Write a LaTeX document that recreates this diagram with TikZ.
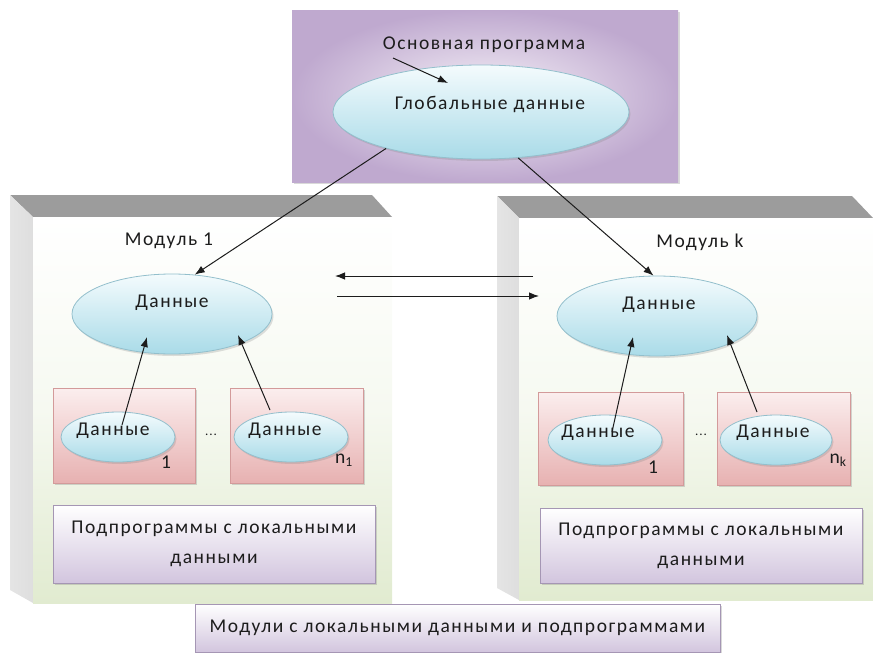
\documentclass[tikz,border=0pt]{standalone}
\usepackage{fontspec}
\setmainfont{Carlito}[LetterSpace=8]
\usetikzlibrary{arrows.meta,shadows,shapes.geometric,calc}

\definecolor{ink}{HTML}{1C1C1C}
\definecolor{purpin}{HTML}{F6F2F8}
\definecolor{purpout}{HTML}{BFA9CF}
\definecolor{ovtop}{HTML}{F4FBFD}
\definecolor{ovbot}{HTML}{A9DBE8}
\definecolor{ovline}{HTML}{93BFCC}
\definecolor{pinktop}{HTML}{FBEEEE}
\definecolor{pinkbot}{HTML}{E7B1B1}
\definecolor{pinkline}{HTML}{D39A9A}
\definecolor{lavtop}{HTML}{FFFFFF}
\definecolor{lavbot}{HTML}{D2C5DE}
\definecolor{lavline}{HTML}{A596B4}
\definecolor{facebot}{HTML}{E1EBD0}
\definecolor{bevtop}{HTML}{9C9C9C}
\definecolor{bevside}{HTML}{DEDEDE}

\tikzset{
  lbl/.style={font=\fontsize{19.5}{22}\selectfont, text=ink, inner sep=0pt},
  oval/.style={ellipse, draw=ovline, line width=0.8pt, top color=ovtop, bottom color=ovbot,
               inner sep=0pt, drop shadow={opacity=0.25, shadow xshift=1.5pt, shadow yshift=-2pt}},
  pinkbox/.style={rectangle, draw=pinkline, line width=0.6pt, top color=pinktop, bottom color=pinkbot,
               inner sep=0pt, drop shadow={opacity=0.3, shadow xshift=2pt, shadow yshift=-2pt}},
  lavbox/.style={rectangle, draw=lavline, line width=0.6pt, top color=lavtop, bottom color=lavbot,
               inner sep=0pt, align=center, font=\fontsize{19.5}{30}\selectfont, text=ink,
               drop shadow={opacity=0.3, shadow xshift=2pt, shadow yshift=-2pt}},
  arr/.style={draw=ink, line width=1pt, -{Latex[length=10pt,width=7.5pt]}},
}

\begin{document}
\begin{tikzpicture}[x=1pt,y=-1pt]
\useasboundingbox (0,0) rectangle (873,653);

% main program panel
\node[rectangle, minimum width=386pt, minimum height=172pt, inner sep=0pt,
      inner color=purpin, outer color=purpout,
      drop shadow={opacity=0.3, shadow xshift=2pt, shadow yshift=-2pt}] (main) at (485,96) {};

% module 1 block
\fill[bevtop] (10,195) -- (372,195) -- (392,217) -- (33,217) -- cycle;
\shade[left color=bevside!80, right color=bevside] (10,195) -- (33,217) -- (33,603) -- (10,590) -- cycle;
\shade[top color=white, bottom color=facebot, middle color=white!70!facebot] (33,217) rectangle (392,603);

% module k block
\fill[bevtop] (497,196) -- (852,196) -- (873,218) -- (519,218) -- cycle;
\shade[left color=bevside!80, right color=bevside] (497,196) -- (519,218) -- (519,600) -- (497,588) -- cycle;
\shade[top color=white, bottom color=facebot, middle color=white!70!facebot] (519,218) rectangle (873,600);

% global data
\node[oval, minimum width=296pt, minimum height=94pt] (glob) at (481,112) {};
\node[lbl] (globt) at (490,104) {Глобальные данные};
\node[lbl] (mainname) at (484,45) {Основная программа};
\draw[arr] ($(mainname.center)+(-91,13)$) -- ($(glob.center)+(-33,-29)$);

% module labels
\node[lbl] (m1name) at (169,241) {Модуль 1};
\node[lbl] (mkname) at (700,242) {Модуль k};

% module data
\node[oval, minimum width=200pt, minimum height=80pt] (d1) at (172,314) {};
\node[lbl] (d1t) at (172,303) {Данные};
\node[oval, minimum width=200pt, minimum height=80pt] (d2) at (657,316) {};
\node[lbl] (d2t) at (659,305) {Данные};

% subprogram cells, module 1
\node[pinkbox, minimum width=142pt, minimum height=95pt] (p1) at (124,435.5) {};
\node[pinkbox, minimum width=133pt, minimum height=95pt] (p2) at (296.5,435.5) {};
\node[oval, minimum width=114pt, minimum height=50pt] (e1) at (118,437) {};
\node[oval, minimum width=114pt, minimum height=50pt] (e2) at (291,437) {};
\node[lbl] (e1t) at (113,431) {Данные};
\node[lbl] (e2t) at (285,431) {Данные};
\node[lbl] (e1n) at (166,462) {1};
\node[lbl] (e2n) at (344,460) {n\textsubscript{1}};
\node[lbl, font=\fontsize{13}{14}\selectfont] (dots1) at (211,435) {...};

% subprogram cells, module k
\node[pinkbox, minimum width=145pt, minimum height=93pt] (p3) at (610.5,438.5) {};
\node[pinkbox, minimum width=133pt, minimum height=93pt] (p4) at (783.5,438.5) {};
\node[oval, minimum width=114pt, minimum height=50pt] (e3) at (605,440) {};
\node[oval, minimum width=112pt, minimum height=50pt] (e4) at (776,440) {};
\node[lbl] (e3t) at (598,433) {Данные};
\node[lbl] (e4t) at (773,433) {Данные};
\node[lbl] (e3n) at (653,467) {1};
\node[lbl] (e4n) at (838,460) {n\textsubscript{k}};
\node[lbl, font=\fontsize{13}{14}\selectfont] (dots2) at (701,435) {...};

% subprograms with local data
\node[lavbox, minimum width=322pt, minimum height=78pt] (s1) at (214,544)
  {Подпрограммы с локальными\\данными};
\node[lavbox, minimum width=322pt, minimum height=75pt] (s2) at (701,545.5)
  {Подпрограммы с локальными\\данными};

% caption box
\node[lavbox, minimum width=525pt, minimum height=48pt] (caption) at (457.5,628)
  {Модули с локальными данными и подпрограммами};

% links
\draw[arr] (glob.201) -- (d1.60);
\draw[arr] (glob.309) -- (d2.95);

\coordinate (hr1) at (533,276);
\coordinate (hl1) at (335,276);
\coordinate (hl2) at (337,296);
\coordinate (hr2) at (539,296);
\draw[arr] (hr1) -- (hl1);
\draw[arr] (hl2) -- (hr2);

\draw[arr] ($(e1.center)+(4,-12)$) -- ($(d1.center)+(-25,23)$);
\draw[arr] ($(e2.center)+(-21,-27)$) -- ($(d1.center)+(66,21)$);
\draw[arr] ($(e3.center)+(7,-8)$) -- ($(d2.center)+(-24,21)$);
\draw[arr] ($(e4.center)+(-19,-28)$) -- ($(d2.center)+(70,19)$);
\end{tikzpicture}
\end{document}
